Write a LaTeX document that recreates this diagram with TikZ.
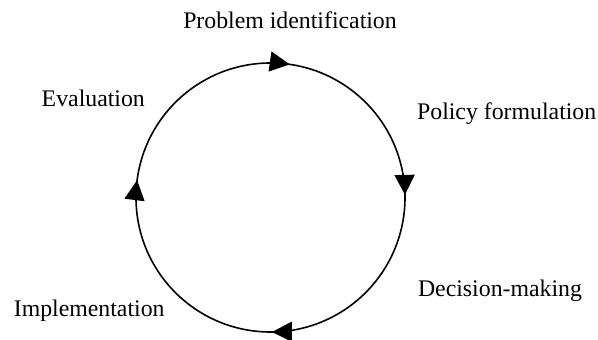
\documentclass[tikz,border=0pt]{standalone}
\usepackage{fontspec}
\setmainfont{Liberation Serif}
\usetikzlibrary{arrows.meta,decorations.markings}
\begin{document}
\begin{tikzpicture}[x=1pt,y=1pt,
  label/.style={anchor=base,inner sep=0pt,font=\fontsize{23.8}{28}\selectfont},
  cyc/.style={line width=1.6pt,postaction={decorate},
    decoration={markings,
      mark=at position 0.0229 with {\arrow{Triangle[length=20pt,width=20pt]}},
      mark=at position 0.2469 with {\arrow{Triangle[length=20pt,width=20pt]}},
      mark=at position 0.4983 with {\arrow{Triangle[length=20pt,width=20pt]}},
      mark=at position 0.7706 with {\arrow{Triangle[length=20pt,width=20pt]}}}}]
\useasboundingbox (0,0) rectangle (598,340);
\coordinate (c) at (270.5,142.5);
\coordinate (start) at (270.5,277);
\draw[cyc] (start) arc[start angle=90,end angle=-270,radius=134.5];
\node[label] (prob) at (290,311.7) {Problem identification};
\node[label] (pol) at (506.7,220) {Policy formulation};
\node[label] (dec) at (500,43.3) {Decision-making};
\node[label] (impl) at (89.2,23.3) {Implementation};
\node[label] (eval) at (93.3,233.3) {Evaluation};
\end{tikzpicture}
\end{document}
